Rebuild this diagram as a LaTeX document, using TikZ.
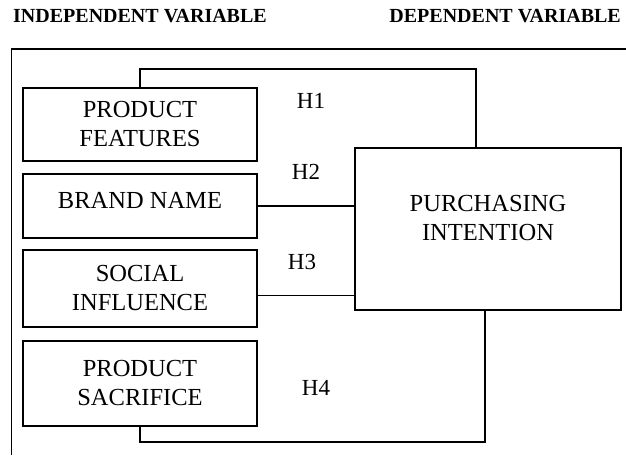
\documentclass[tikz,border=0pt]{standalone}
\usepackage{fontspec}
\setmainfont{Liberation Serif}
\begin{document}
\begin{tikzpicture}[x=1pt,y=-1pt,
  box/.style={draw=black,line width=1.3pt,minimum width=234pt,inner sep=0pt,align=center,
    font=\fontsize{24.5}{29}\selectfont},
  txt/.style={inner sep=0pt,align=center,font=\fontsize{24.5}{29}\selectfont},
  hyp/.style={inner sep=0pt,font=\fontsize{23}{27}\selectfont},
  ttl/.style={inner sep=0pt,font=\fontsize{20}{24}\selectfont\bfseries},
  conn/.style={draw=black,line width=1.2pt},
  frame/.style={draw=black,line width=1.7pt}]
\useasboundingbox (0,0) rectangle (626,455);
% titles
\node[ttl,anchor=west] (tind) at (13,16) {INDEPENDENT VARIABLE};
\node[ttl,anchor=east] (tdep) at (621,16) {DEPENDENT VARIABLE};
% outer frame
\coordinate (fr) at (626,49);
\coordinate (fc) at (11.5,49);
\coordinate (fb) at (11.5,455);
\draw[frame] (fr) -- (fc) -- (fb);
% independent boxes
\node[box,minimum height=73pt] (pf) at (140,124.5) {PRODUCT\\FEATURES};
\node[box,minimum height=64pt] (bn) at (140,206) {};
\node[txt] (bnt) at (140,200) {BRAND NAME};
\node[box,minimum height=77pt] (si) at (140,288.5) {SOCIAL\\INFLUENCE};
\node[box,minimum height=85pt] (ps) at (140,383.5) {PRODUCT\\SACRIFICE};
% dependent box
\node[draw=black,line width=1.3pt,minimum width=266pt,minimum height=162pt,inner sep=0pt] (pi) at (488,229) {};
\node[txt] (pit) at (488,218) {PURCHASING\\INTENTION};
% connectors
\coordinate (h1a) at (140,69);
\coordinate (h1b) at (476,69);
\draw[conn] (pf.north) -- (h1a) -- (h1b) -- (h1b |- pi.north);
\draw[conn] (bn.east) -- (bn.east -| pi.west);
\coordinate (h3a) at (257,295.5);
\draw[conn] (h3a) -- (h3a -| pi.west);
\coordinate (h4a) at (140,442);
\coordinate (h4b) at (485,442);
\draw[conn] (ps.south) -- (h4a) -- (h4b) -- (h4b |- pi.south);
% hypothesis labels
\node[hyp] (h1) at (311,101) {H1};
\node[hyp] (h2) at (306,172) {H2};
\node[hyp] (h3) at (302,262) {H3};
\node[hyp] (h4) at (316,388) {H4};
\end{tikzpicture}
\end{document}
